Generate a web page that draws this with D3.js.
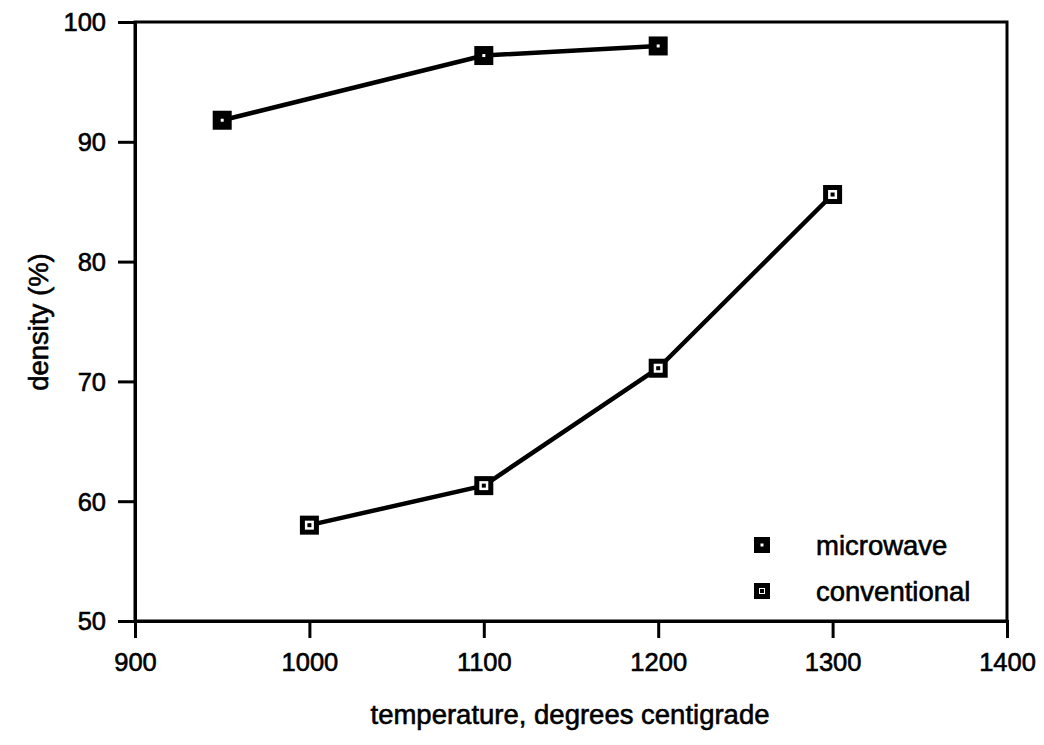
<!DOCTYPE html>
<html><head><meta charset="utf-8">
<script src="https://cdn.jsdelivr.net/npm/d3@7"></script>
<style>body{margin:0;background:#fff}svg{display:block}text{font-family:"Liberation Sans",Arial,sans-serif;fill:#000;stroke:#000;stroke-width:0.6px}</style>
</head><body>
<svg id="c" width="1044" height="745"></svg>
<script>
const microwaveTemp = [950, 1100, 1200];
const microwaveDensity = [91.8, 97.2, 98.0];
const conventionalTemp = [1000, 1100, 1200, 1300];
const conventionalDensity = [58.0, 61.3, 71.1, 85.6];
const xTicks = [900, 1000, 1100, 1200, 1300, 1400];
const yTicks = [50, 60, 70, 80, 90, 100];
const seriesNames = ["microwave", "conventional"];

const svg = d3.select("#c");
const L = 135, R = 1007, T = 22, B = 621;
const x = d3.scaleLinear().domain([900, 1400]).range([L, R]);
const y = d3.scaleLinear().domain([50, 100]).range([B, T]);

// frame
svg.append("rect").attr("x", L).attr("y", T).attr("width", R - L).attr("height", B - T)
  .attr("fill", "none").attr("stroke", "#000").attr("stroke-width", 3);

const xa = svg.append("g").attr("transform", `translate(0,${B})`)
  .call(d3.axisBottom(x).tickValues(xTicks).tickSize(17).tickPadding(10).tickFormat(d3.format("d")));
const ya = svg.append("g").attr("transform", `translate(${L},0)`)
  .call(d3.axisLeft(y).tickValues(yTicks).tickSize(17).tickPadding(12).tickFormat(d3.format("d")));
[xa, ya].forEach(g => {
  g.select(".domain").attr("stroke-width", 3);
  g.selectAll(".tick line").attr("stroke-width", 3);
  g.selectAll(".tick text").attr("font-size", 25.5).attr("font-family", '"Liberation Sans",Arial,sans-serif');
});
xa.selectAll(".tick text").attr("dy", "0.9em");
ya.selectAll(".tick text").attr("dy", "0.35em");

svg.append("text").attr("x", 570).attr("y", 724).attr("text-anchor", "middle")
  .attr("font-size", 27.5).text("temperature, degrees centigrade");
svg.append("text").attr("transform", "translate(48,322) rotate(-90)").attr("text-anchor", "middle")
  .attr("font-size", 27.5).text("density (%)");

const line = d3.line().x(d => x(d[0])).y(d => y(d[1]));
const mw = microwaveTemp.map((t, i) => [t, microwaveDensity[i]]);
const cv = conventionalTemp.map((t, i) => [t, conventionalDensity[i]]);

[mw, cv].forEach(data => {
  svg.append("path").datum(data).attr("d", line).attr("fill", "none")
    .attr("stroke", "#000").attr("stroke-width", 4.5).attr("stroke-linejoin", "round");
});

function filledMarker(g, cx, cy, s) {
  g.append("rect").attr("x", cx - s / 2).attr("y", cy - s / 2).attr("width", s).attr("height", s).attr("fill", "#000");
  g.append("rect").attr("x", cx - 1.5).attr("y", cy - 1.5).attr("width", 3).attr("height", 3).attr("fill", "#fff");
}
function openMarker(g, cx, cy, s) {
  g.append("rect").attr("x", cx - s / 2 + 2.5).attr("y", cy - s / 2 + 2.5).attr("width", s - 5).attr("height", s - 5)
    .attr("fill", "#fff").attr("stroke", "#000").attr("stroke-width", 5);
  g.append("rect").attr("x", cx - 2).attr("y", cy - 2).attr("width", 4).attr("height", 4).attr("fill", "#000");
}
const gm = svg.append("g");
mw.forEach(d => filledMarker(gm, x(d[0]), y(d[1]), 19));
cv.forEach(d => openMarker(gm, x(d[0]), y(d[1]), 19));

// legend
const lg = svg.append("g");
filledMarker(lg, 762, 545, 16);
openMarker(lg, 762, 591, 16);
lg.append("text").attr("x", 816).attr("y", 555).attr("font-size", 27.5).text(seriesNames[0]);
lg.append("text").attr("x", 816).attr("y", 601).attr("font-size", 27.5).text(seriesNames[1]);
</script>
</body></html>
